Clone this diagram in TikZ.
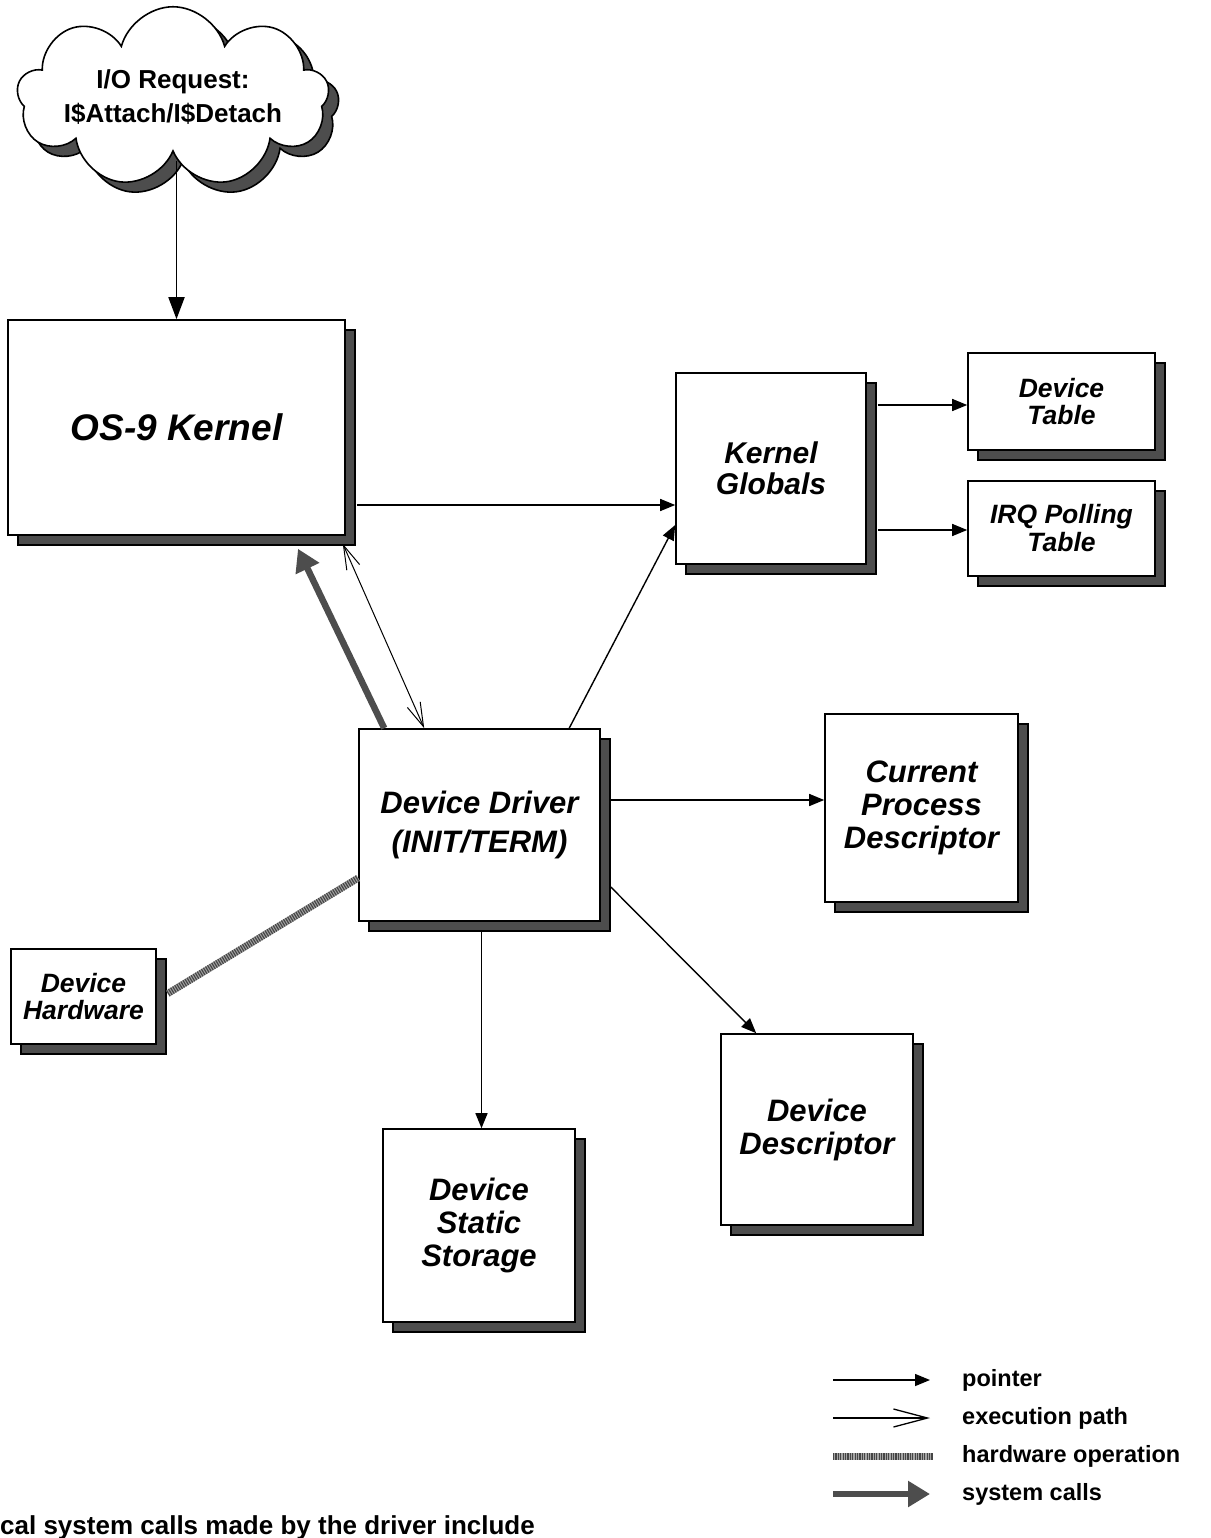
\documentclass[tikz,border=0pt]{standalone}
\usepackage{fontspec}
\setmainfont{Liberation Sans}
\usetikzlibrary{shapes.symbols,shadows,arrows.meta}
\definecolor{shd}{RGB}{77,77,77}
\definecolor{hwlight}{RGB}{165,165,165}
\definecolor{hwdark}{RGB}{70,70,70}
\begin{document}
\begin{tikzpicture}[x=1pt,y=-1pt,
  shadowed/.style={drop shadow={shadow xshift=10pt,shadow yshift=-10pt,fill=shd,draw=black,line width=1.6pt,opacity=1}},
  box/.style={shape=rectangle,draw=black,line width=1.6pt,fill=white,align=center,inner sep=0pt,shadowed},
  bigtxt/.style={font=\fontsize{31}{33}\selectfont\bfseries\itshape},
  smalltxt/.style={font=\fontsize{26.5}{27}\selectfont\bfseries\itshape},
  legtxt/.style={anchor=west,inner sep=0pt,font=\fontsize{23.5}{25}\selectfont\bfseries},
  ptr/.style={line width=1.4pt,-{Triangle[length=15pt,width=12pt]}},
  exe/.style={line width=1pt,{Straight Barb[length=24pt,width=14pt]}-{Straight Barb[length=24pt,width=14pt]}},
  sys/.style={line width=6.5pt,shd,-{Triangle[length=22pt,width=25pt]}},
  hwbase/.style={line width=7pt,hwlight},
  hwstripe/.style={line width=7pt,hwdark,dash pattern=on 1.2pt off 1.2pt}
]
\useasboundingbox (0,0) rectangle (1210,1538);
\clip (0,0) rectangle (1210,1538);

% cloud
\node[cloud,cloud puffs=9,aspect=2.3,draw=black,line width=1.6pt,fill=white,shadowed,
      inner xsep=-14pt,inner ysep=-14pt,minimum width=312pt,minimum height=140pt,align=center,
      font=\fontsize{26}{34}\selectfont\bfseries] (cloud) at (173,97) {I/O Request:\\I\$Attach/I\$Detach};

% boxes
\node[box,minimum width=337pt,minimum height=215pt,font=\fontsize{37}{40}\selectfont\bfseries\itshape] (kernel) at (176.5,427.5) {OS-9 Kernel};
\node[box,font=\fontsize{30}{31}\selectfont\bfseries\itshape,minimum width=190pt,minimum height=191pt] (globals) at (771,468.5) {Kernel\\Globals};
\node[box,smalltxt,minimum width=187pt,minimum height=97pt] (devtable) at (1061.5,401.5) {Device\\Table};
\node[box,smalltxt,minimum width=187pt,minimum height=95pt,font=\fontsize{26.5}{28}\selectfont\bfseries\itshape] (irq) at (1061.5,528.5) {IRQ Polling\\Table};
\node[box,font=\fontsize{31}{39}\selectfont\bfseries\itshape,minimum width=241pt,minimum height=192pt] (driver) at (479.5,825) {Device Driver\\(INIT/TERM)};
\node[box,bigtxt,minimum width=193pt,minimum height=188pt] (cpd) at (921.5,808) {Current\\Process\\Descriptor};
\node[box,smalltxt,minimum width=145pt,minimum height=95pt] (hardware) at (83.5,996.5) {Device\\Hardware};
\node[box,bigtxt,minimum width=192pt,minimum height=191pt] (devdesc) at (817,1129.5) {Device\\Descriptor};
\node[box,bigtxt,minimum width=192pt,minimum height=193pt] (storage) at (479,1225.5) {Device\\Static\\Storage};

% connectors
\coordinate (cloudbot) at ([yshift=-8pt]cloud.south);
\draw[line width=1.8pt,-{Triangle[length=22pt,width=16pt]}] (cloudbot -| kernel.north) -- (kernel.north);
\draw[ptr] ([xshift=11pt,yshift=-77.5pt]kernel.east) -- ([yshift=-36.5pt]globals.west);
\draw[ptr] ([xshift=211pt]driver.north west) -- ([yshift=-56.5pt]globals.west);
\draw[ptr] ([xshift=11pt,yshift=63.5pt]globals.east) -- ([yshift=-3.5pt]devtable.west);
\draw[ptr] ([xshift=11pt,yshift=-61.5pt]globals.east) -- ([yshift=-1.5pt]irq.west);
\draw[ptr] ([xshift=10pt,yshift=25pt]driver.east) -- ([yshift=8pt]cpd.west);
\draw[ptr] ([xshift=10pt,yshift=-62pt]driver.east) -- ([xshift=36pt]devdesc.north west);
\draw[ptr] ([xshift=2pt,yshift=-9pt]driver.south) -- ([xshift=2.5pt]storage.north);
\draw[exe] ([xshift=-3pt,yshift=-8pt]kernel.south east) -- ([xshift=66pt]driver.north west);
\draw[sys] ([xshift=26pt]driver.north west) -- ([xshift=121.5pt,yshift=-13pt]kernel.south);
\draw[hwbase] ([xshift=11pt,yshift=3pt]hardware.east) -- ([yshift=-53pt]driver.west);
\draw[hwstripe] ([xshift=11pt,yshift=3pt]hardware.east) -- ([yshift=-53pt]driver.west);

% legend
\coordinate (l1a) at (833,1380); \coordinate (l1b) at (930,1380);
\coordinate (l2a) at (833,1418); \coordinate (l2b) at (930,1418);
\coordinate (l3a) at (833,1456); \coordinate (l3b) at (933,1456);
\coordinate (l4a) at (833,1494); \coordinate (l4b) at (930,1494);
\draw[ptr] (l1a) -- (l1b);
\draw[line width=1.3pt,-{Straight Barb[length=34pt,width=18pt]}] (l2a) -- (l2b);
\draw[hwbase] (l3a) -- (l3b);
\draw[hwstripe] (l3a) -- (l3b);
\draw[sys] (l4a) -- (l4b);
\node[legtxt] (lt1) at (962,1380) {pointer};
\node[legtxt] (lt2) at (962,1418) {execution path};
\node[legtxt] (lt3) at (962,1456) {hardware operation};
\node[legtxt] (lt4) at (962,1494) {system calls};

% clipped note at the bottom
\node[anchor=base west,inner sep=0pt,font=\fontsize{26}{28}\selectfont\bfseries] (note) at (0,1534) {cal system calls made by the driver include};
\end{tikzpicture}
\end{document}
